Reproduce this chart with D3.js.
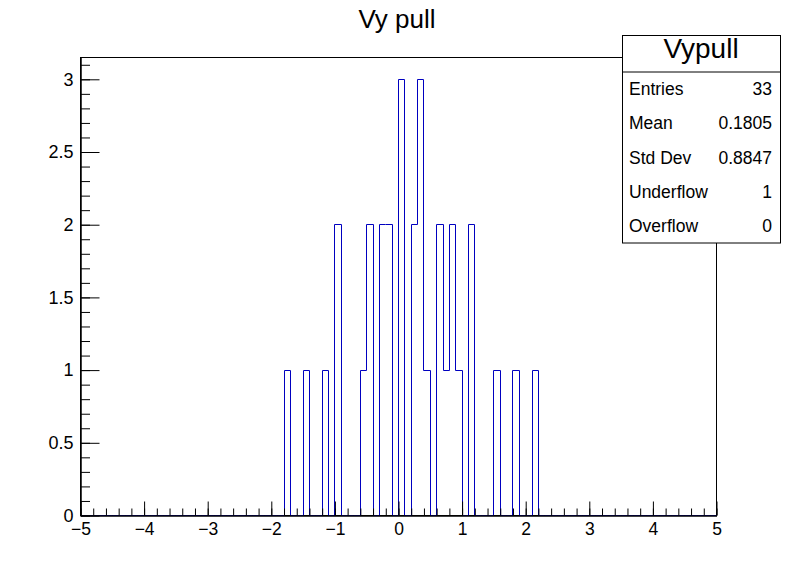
<!DOCTYPE html>
<html>
<head>
<meta charset="utf-8">
<script src="https://cdn.jsdelivr.net/npm/d3@7"></script>
<style>
  body { margin: 0; background: #fff; }
  svg { display: block; font-family: "Liberation Sans", Arial, sans-serif; }
</style>
</head>
<body>
<svg width="796" height="572"></svg>
<script>
// histogram: 100 bins of 0.1 from -5 to 5, only the filled ones listed (by lower edge)
var binLow   = [-1.8, -1.5, -1.2, -1.0, -0.6, -0.5, -0.3, -0.2, 0.0, 0.2, 0.3, 0.4, 0.6, 0.7, 0.8, 0.9, 1.1, 1.5, 1.8, 2.1];
var binCount = [1, 1, 1, 2, 1, 2, 2, 2, 3, 2, 3, 1, 2, 1, 2, 1, 2, 1, 1, 1];
var xTicks = [-5, -4, -3, -2, -1, 0, 1, 2, 3, 4, 5];
var yTicks = [0, 0.5, 1, 1.5, 2, 2.5, 3];
var statNames  = ["Entries", "Mean", "Std Dev", "Underflow", "Overflow"];
var statValues = ["33", "0.1805", "0.8847", "1", "0"];

var svg = d3.select('svg');
// frame edges (ROOT default 10% pad margins)
var fLeft = 80, fRight = 716, fTop = 57, fBottom = 515;

var x = d3.scaleLinear().domain([-5, 5]).range([fLeft, fRight]);
var y = d3.scaleLinear().domain([0, 3.15]).range([fBottom, fTop]);

// fill the full 100 bins
var nBins = 100, bw = 0.1;
var counts = new Array(nBins).fill(0);
binLow.forEach(function(lo, i) {
  counts[Math.round((lo + 5) / bw)] = binCount[i];
});
var pts = counts.map(function(c, i) { return [-5 + i * bw, c]; });
pts.push([5, counts[nBins - 1]]);

// frame
svg.append('rect')
  .attr('x', fLeft + 0.5).attr('y', fTop + 0.5)
  .attr('width', fRight - fLeft).attr('height', fBottom - fTop)
  .attr('fill', 'none').attr('stroke', '#000');

// histogram outline
var line = d3.line()
  .x(function(d) { return Math.round(x(d[0])) + 0.5; })
  .y(function(d) { return Math.round(y(d[1])) + 0.5; })
  .curve(d3.curveStepAfter);
svg.append('path')
  .attr('d', line(pts))
  .attr('fill', 'none')
  .attr('stroke', '#0000c0')
  .attr('stroke-width', 1);

// x axis, ticks pointing into the frame
var fmt = d3.format('~g');
var gx = svg.append('g').attr('transform', 'translate(0.5,' + (fBottom + 0.5) + ')');
gx.call(d3.axisBottom(x).tickValues(d3.range(-5, 5.001, 0.2)).tickSizeInner(-7).tickSizeOuter(0).tickFormat(''));
gx.append('g').attr('class', 'xmaj')
  .call(d3.axisBottom(x).tickValues(xTicks).tickSizeInner(-14).tickSizeOuter(0).tickPadding(7).tickFormat(fmt));

// y axis
var gy = svg.append('g').attr('transform', 'translate(' + (fLeft + 0.5) + ',0.5)');
gy.call(d3.axisLeft(y).tickValues(d3.range(0, 3.15, 0.1)).tickSizeInner(-9.5).tickSizeOuter(0).tickFormat(''));
gy.append('g').call(d3.axisLeft(y).tickValues(yTicks).tickSizeInner(-19).tickSizeOuter(0).tickPadding(7).tickFormat(fmt));

svg.selectAll('.domain').attr('stroke', '#000');
svg.selectAll('.tick line').attr('stroke', '#000');
svg.selectAll('.tick text')
  .attr('font-family', '"Liberation Sans", Arial, sans-serif')
  .attr('font-size', 18).attr('fill', '#000');
svg.selectAll('.xmaj .tick text').attr('font-size', 17.5);

// title
svg.append('text')
  .attr('x', 397).attr('y', 28)
  .attr('text-anchor', 'middle')
  .attr('font-size', 26)
  .text('Vy pull');

// stats box
var bx = 622, by = 35, bwid = 158, hdr = 36.5, rowH = 34.2;
var stats = svg.append('g');
stats.append('rect')
  .attr('x', bx + 0.5).attr('y', by + 0.5)
  .attr('width', bwid).attr('height', hdr + rowH * statNames.length)
  .attr('fill', '#fff').attr('stroke', '#000');
stats.append('line')
  .attr('x1', bx).attr('x2', bx + bwid)
  .attr('y1', by + hdr + 0.5).attr('y2', by + hdr + 0.5)
  .attr('stroke', '#000');
stats.append('text')
  .attr('x', bx + bwid / 2).attr('y', by + 23)
  .attr('text-anchor', 'middle')
  .attr('font-size', 28)
  .text('Vypull');
statNames.forEach(function(name, i) {
  var yy = by + hdr + rowH * (i + 0.5) + 6.5;
  stats.append('text').attr('x', bx + 7).attr('y', yy).attr('font-size', 17.5).text(name);
  stats.append('text').attr('x', bx + 150).attr('y', yy).attr('font-size', 17.5)
    .attr('text-anchor', 'end').text(statValues[i]);
});
</script>
</body>
</html>
